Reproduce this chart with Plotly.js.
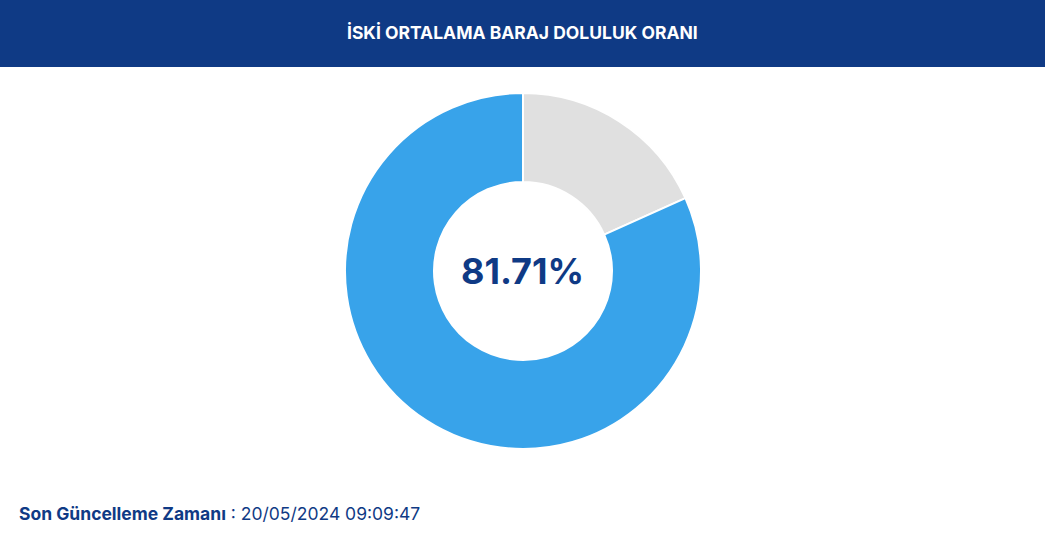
<!DOCTYPE html>
<html>
<head>
<meta charset="utf-8">
<script src="https://cdn.plot.ly/plotly-3.0.1.min.js"></script>
<style>
	body { margin: 0; background: #fff; }
	#chart { width: 1045px; height: 544px; }
</style>
</head>
<body>
<div id="chart"></div>
<script>
// doluluk verisi (boş dilim önce, saat yönünde tepeden başlar)
var labels = ["Boş", "Dolu"];
var values = [18.29, 81.71];
var colors = ["#e0e0e0", "#38a3ea"];

var titleText = "İSKİ ORTALAMA BARAJ DOLULUK ORANI";
var centerText = "81.71%";
var updateLabel = "Son Güncelleme Zamanı";
var updateTime = "20/05/2024 09:09:47";

var W = 1045, H = 544;
var navy = "#0f3a85";

var trace = {
	type: "pie",
	labels: labels,
	values: values,
	hole: 0.5,
	sort: false,
	direction: "clockwise",
	rotation: 0,
	textinfo: "none",
	hoverinfo: "label+value",
	marker: { colors: colors, line: { color: "#ffffff", width: 2 } },
	domain: {
		x: [345 / W, 701 / W],
		y: [(H - 449) / H, (H - 93) / H]
	}
};

var layout = {
	width: W,
	height: H,
	margin: { l: 0, r: 0, t: 0, b: 0 },
	showlegend: false,
	paper_bgcolor: "#ffffff",
	font: { family: "Inter, 'Open Sans', sans-serif", color: navy },
	shapes: [{
		type: "rect", xref: "paper", yref: "paper",
		x0: 0, x1: 1, y0: (H - 67) / H, y1: 1,
		fillcolor: navy, line: { width: 0 }, layer: "below"
	}],
	annotations: [
		{
			text: "<b>" + titleText + "</b>",
			xref: "paper", yref: "paper", x: 0.5, y: (H - 32) / H,
			xanchor: "center", yanchor: "middle", showarrow: false,
			font: { size: 17.5, color: "#ffffff", family: "Inter, sans-serif" }
		},
		{
			text: "<b>" + centerText + "</b>",
			xref: "paper", yref: "paper", x: 522 / W, y: (H - 271) / H,
			xanchor: "center", yanchor: "middle", showarrow: false,
			font: { size: 36, color: navy, family: "Inter, sans-serif" }
		},
		{
			text: "<b>" + updateLabel + "</b> : " + updateTime,
			xref: "paper", yref: "paper", x: 17 / W, y: (H - 513) / H,
			xanchor: "left", yanchor: "middle", showarrow: false,
			font: { size: 17.5, color: navy, family: "Inter, sans-serif" }
		}
	]
};

Plotly.newPlot("chart", [trace], layout, { displayModeBar: false, staticPlot: true });
</script>
</body>
</html>
